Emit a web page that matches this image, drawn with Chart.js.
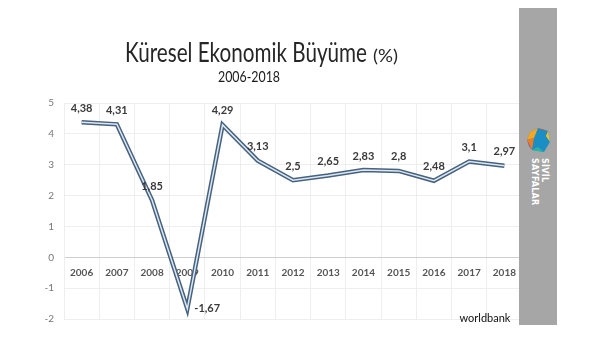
<!DOCTYPE html>
<html>
<head>
<meta charset="utf-8">
<script src="https://cdn.jsdelivr.net/npm/chart.js@4"></script>
<style>
  body { margin: 0; background: #fff; }
  #wrap { position: relative; width: 596px; height: 352px; }
  #band { position: absolute; left: 519px; top: 8px; width: 38px; height: 317px; background: #a6a6a6; }
  #brand { position: absolute; left: 527px; top: 158px; transform-origin: 0 0; transform: translate(22px, 0) rotate(90deg);
    color: #fff; font: bold 8px "DejaVu Sans", sans-serif; line-height: 10px; white-space: nowrap; letter-spacing: 0.3px; }
  #logo { position: absolute; left: 524px; top: 126px; }
</style>
</head>
<body>
<div id="wrap">
  <canvas id="growthChart" width="596" height="352"></canvas>
  <div id="band"></div>
  <svg id="logo" width="28" height="28" viewBox="0 0 28 28">
    <polygon points="6,6 14,2 24,5 26,16 20,26 8,24 3,14" fill="#1b8fc4"/>
    <polygon points="6,6 14,2 10,12 3,14" fill="#f5a623"/>
    <polygon points="3,14 10,12 8,24" fill="#f07c22"/>
    <polygon points="3,14 8,24 5,20" fill="#7b4fa0"/>
    <polygon points="14,2 24,5 18,4" fill="#e5432e"/>
    <polygon points="24,5 26,16 22,10" fill="#f3c623"/>
    <polygon points="20,26 8,24 14,21" fill="#2bb3a4"/>
  </svg>
  <div id="brand">SİVİL<br>SAYFALAR</div>
</div>
<script>
const years = ["2006", "2007", "2008", "2009", "2010", "2011", "2012", "2013", "2014", "2015", "2016", "2017", "2018"];
const growth = [4.38, 4.31, 1.85, -1.67, 4.29, 3.13, 2.5, 2.65, 2.83, 2.8, 2.48, 3.1, 2.97];
const titleText = "Küresel Ekonomik Büyüme";
const subtitleText = "2006-2018";
const sourceText = "worldbank";

const fmt = (v) => String(v).replace(".", ",");

// narrow text to a given width (the original uses a Calibri-like face)
function squeezeText(c, text, x, y, width) {
  const w = c.measureText(text).width;
  c.save();
  c.translate(x, y);
  c.scale(width / w, 1);
  c.fillText(text, 0, 0);
  c.restore();
}

// titles, source and value labels drawn on the canvas
const decor = {
  id: "decor",
  afterDraw(chart) {
    const c = chart.ctx;
    c.save();
    c.fillStyle = "#262626";
    c.textBaseline = "alphabetic";
    c.textAlign = "left";
    c.font = "26px Lato";
    squeezeText(c, titleText, 125, 62, 242);
    c.font = "18px Lato";
    squeezeText(c, "(%)", 373, 62, 25);

    c.fillStyle = "#1a1a1a";
    c.font = "16px Lato";
    squeezeText(c, subtitleText, 218, 82, 62);

    c.fillStyle = "#111";
    c.font = "11px Lato";
    c.textAlign = "center";
    c.fillText(sourceText, 485, 322);

    // data labels
    const meta = chart.getDatasetMeta(0);
    c.font = "bold 11px Lato";
    c.fillStyle = "#3a3a3a";
    c.textBaseline = "middle";
    meta.data.forEach((pt, i) => {
      const v = growth[i];
      if (v < 0) {
        c.textAlign = "left";
        c.fillText(fmt(v), pt.x + 7, pt.y);
      } else {
        c.textAlign = "center";
        c.fillText(fmt(v), pt.x, pt.y - 14);
      }
    });
    c.restore();
  },
};

const ctx = document.getElementById("growthChart").getContext("2d");
const growthChart = new Chart(ctx, {
  type: "line",
  data: {
    labels: years,
    datasets: [
      {
        data: growth,
        borderColor: "#46627f",
        borderWidth: 4.5,
        pointRadius: 0,
        tension: 0,
        order: 2,
      },
      {
        data: growth,
        borderColor: "#dde7f2",
        borderWidth: 1.5,
        pointRadius: 0,
        tension: 0,
        order: 1,
      },
    ],
  },
  options: {
    responsive: false,
    animation: false,
    layout: { padding: { top: 103, right: 74, bottom: 33, left: 0 } },
    plugins: {
      legend: { display: false },
      tooltip: { enabled: false },
    },
    scales: {
      x: {
        position: { y: 0 },
        offset: true,
        afterFit: (s) => { s.height = 0; },
        grid: {
          offset: true,
          color: "#eeeeee",
          drawTicks: false,
        },
        border: { color: "#cfcfcf" },
        ticks: {
          color: "#555",
          padding: 9,
          font: { family: "Lato", size: 10, weight: "bold" },
        },
      },
      y: {
        min: -2,
        max: 5,
        afterFit: (s) => { s.width = 64; },
        grid: {
          color: "#eeeeee",
          drawTicks: false,
        },
        border: { color: "#eeeeee" },
        ticks: {
          stepSize: 1,
          color: "#777",
          padding: 10,
          font: { family: "Lato", size: 10 },
        },
      },
    },
  },
  plugins: [decor],
});
</script>
</body>
</html>
